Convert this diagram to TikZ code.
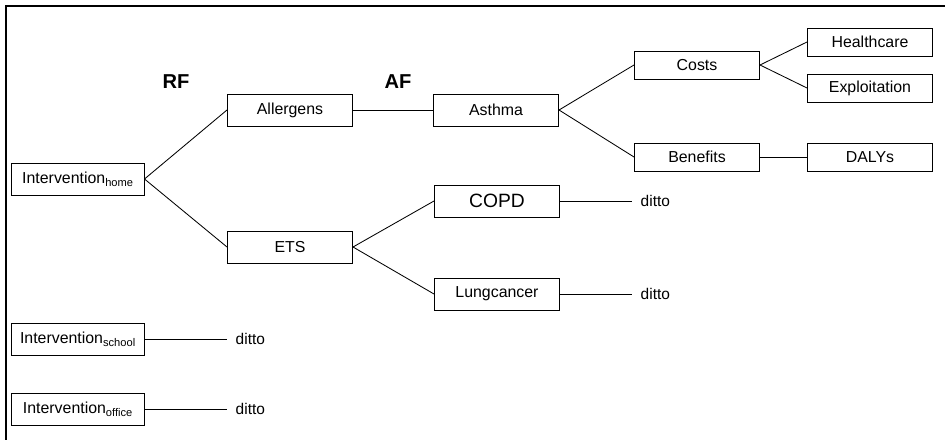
\documentclass[tikz,border=0pt]{standalone}
\usepackage{fontspec}
\setmainfont{Liberation Sans}
\usetikzlibrary{positioning}

\begin{document}
\begin{tikzpicture}[x=0.025cm, y=-0.025cm,
  box/.style={rectangle, draw=black, line width=0.7pt, minimum width=3.125cm, minimum height=0.8cm, inner sep=1pt, font=\fontsize{11.3}{13}\selectfont},
  smallbox/.style={box, minimum height=0.7cm},
  intbox/.style={box, minimum width=3.3cm},
  heading/.style={font=\fontsize{14.3}{16}\selectfont\bfseries},
  ditto/.style={font=\fontsize{11}{13}\selectfont, inner ysep=1pt, inner xsep=6pt},
  link/.style={draw=black, line width=0.6pt}
]
  \useasboundingbox (0,0) rectangle (945,440);
  % frame
  \draw[line width=1.4pt] (945,6) -- (6,6) -- (6,440);

  % headings
  \node[heading] (rf) at (176,82) {RF};
  \node[heading] (af) at (398,82) {AF};

  % interventions
  \node[intbox] (home) at (78,179) {Intervention\textsubscript{home}};
  \node[intbox] (school) at (78,339) {Intervention\textsubscript{school}};
  \node[intbox] (office) at (78,409) {Intervention\textsubscript{office}};

  % risk factors
  \node[box] (allergens) at (290,110) {Allergens};
  \node[box] (ets) at (290,247) {ETS};

  % diseases
  \node[box] (asthma) at (496,110) {Asthma};
  \node[box, font=\fontsize{13.7}{16}\selectfont] (copd) at (497,201) {COPD};
  \node[box] (lung) at (497,294) {Lungcancer};

  % outcomes
  \node[smallbox] (costs) at (697,65) {Costs};
  \node[smallbox] (benefits) at (697,157) {Benefits};
  \node[smallbox] (health) at (870,42) {Healthcare};
  \node[smallbox] (exploit) at (870,88) {Exploitation};
  \node[smallbox] (dalys) at (870,157) {DALYs};

  % ditto labels
  \node[ditto, anchor=west] (d1) at (632,201) {ditto};
  \node[ditto, anchor=west] (d2) at (632,294) {ditto};
  \node[ditto, anchor=west] (d3) at (227,339) {ditto};
  \node[ditto, anchor=west] (d4) at (227,409) {ditto};

  % connections
  \draw[link] (home.east) -- (allergens.west);
  \draw[link] (home.east) -- (ets.west);
  \draw[link] (allergens) -- (asthma);
  \draw[link] (asthma.east) -- (costs.west);
  \draw[link] (asthma.east) -- (benefits.west);
  \draw[link] (costs.east) -- (health.west);
  \draw[link] (costs.east) -- (exploit.west);
  \draw[link] (benefits) -- (dalys);
  \draw[link] (ets.east) -- (copd.west);
  \draw[link] (ets.east) -- (lung.west);
  \draw[link] (copd) -- (d1);
  \draw[link] (lung) -- (d2);
  \draw[link] (school) -- (d3);
  \draw[link] (office) -- (d4);
\end{tikzpicture}
\end{document}
